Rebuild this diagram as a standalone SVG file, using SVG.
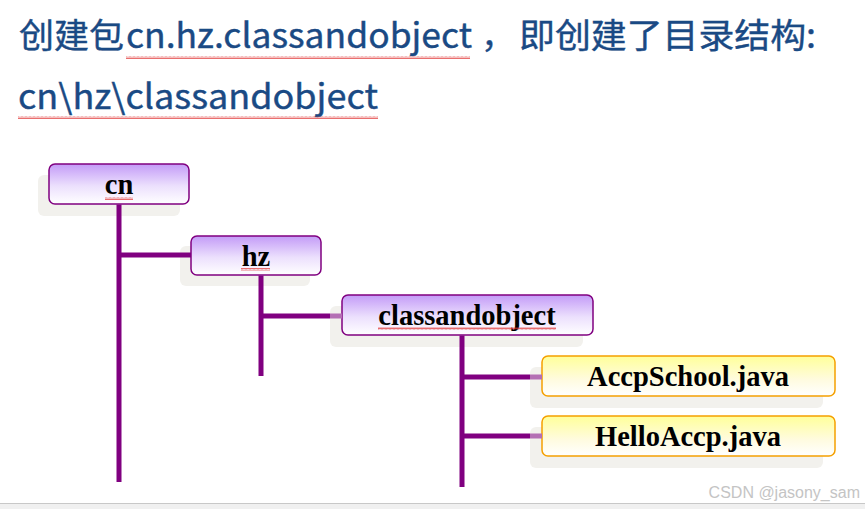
<svg xmlns="http://www.w3.org/2000/svg" width="865" height="509" viewBox="0 0 865 509">
<defs>
<linearGradient id="gP" x1="0" y1="0" x2="0" y2="1">
<stop offset="0" stop-color="#c39bf7"/>
<stop offset="0.55" stop-color="#ece0fd"/>
<stop offset="1" stop-color="#ffffff"/>
</linearGradient>
<linearGradient id="gY" x1="0" y1="0" x2="0" y2="1">
<stop offset="0" stop-color="#ffff99"/>
<stop offset="0.6" stop-color="#fffbe0"/>
<stop offset="1" stop-color="#ffffff"/>
</linearGradient>
<pattern id="sq" width="4" height="3" patternUnits="userSpaceOnUse">
<path d="M0,2.5 L1,0.5 L2,2.5 L3,0.5 L4,2.5" fill="none" stroke="#e03030" stroke-width="0.7"/>
</pattern>
</defs>
<style>
.title{font-family:"Noto Sans CJK SC","Noto Sans",sans-serif;font-size:34px;fill:#1a4a84;stroke:#1a4a84;stroke-width:0.4}
.shadow{fill:#efeee8;opacity:0.8}
.pbox{fill:url(#gP);stroke:#800080;stroke-width:1.5}
.ybox{fill:url(#gY);stroke:#f5a000;stroke-width:1.5}
.lbl{font-family:"Liberation Serif","Times New Roman",serif;font-weight:bold;font-size:28.5px;fill:#000;text-anchor:middle}
.con{stroke:#800080;stroke-width:5;fill:none}
.conl{stroke:#b46fb4;stroke-width:5;fill:none}
.sq{fill:url(#sq)}
</style>
<rect width="865" height="509" fill="#ffffff"/>
<g id="title">
<text class="title" y="48"><tspan x="19" textLength="105" lengthAdjust="spacingAndGlyphs">创建包</tspan><tspan x="126" textLength="346" lengthAdjust="spacingAndGlyphs">cn.hz.classandobject</tspan><tspan x="481">，</tspan><tspan x="519" textLength="297" lengthAdjust="spacingAndGlyphs">即创建了目录结构:</tspan></text>
<text class="title" x="18" y="109" textLength="360" lengthAdjust="spacingAndGlyphs">cn\hz\classandobject</text>
<rect class="sq" x="126" y="56" width="344" height="3"/>
<rect class="sq" x="18" y="116" width="360" height="3"/>
</g>
<g id="n-cn">
<rect class="shadow" x="38" y="175" width="142" height="41" rx="6"/>
<rect class="pbox" x="49" y="164" width="140" height="40" rx="6"/>
<text class="lbl" x="119" y="194">cn</text>
<rect class="sq" x="105" y="197" width="28" height="3"/>
</g>
<g id="n-hz">
<rect class="shadow" x="180" y="246" width="130" height="40" rx="6"/>
<rect class="pbox" x="191" y="236" width="130" height="39" rx="6"/>
<text class="lbl" x="256" y="266">hz</text>
<rect class="sq" x="241" y="268" width="29" height="3"/>
</g>
<g id="n-classandobject">
<rect class="shadow" x="330" y="306" width="253" height="41" rx="6"/>
<rect class="pbox" x="342" y="295" width="251" height="40" rx="6"/>
<text class="lbl" x="467" y="325">classandobject</text>
<rect class="sq" x="378" y="327" width="178" height="3"/>
</g>
<g id="n-accpschool">
<rect class="shadow" x="530" y="367" width="293" height="41" rx="6"/>
<rect class="ybox" x="542" y="356" width="293" height="40" rx="6"/>
<text class="lbl" x="688" y="386">AccpSchool.java</text>
</g>
<g id="n-helloaccp">
<rect class="shadow" x="530" y="427" width="293" height="41" rx="6"/>
<rect class="ybox" x="542" y="416" width="293" height="40" rx="6"/>
<text class="lbl" x="688" y="446">HelloAccp.java</text>
</g>
<g id="connectors">
<path class="con" d="M119,204.5 V482 M119,255 H191"/>
<path class="con" d="M261,275.5 V376 M261,316 H330"/>
<path class="con" d="M462,335.5 V487 M462,377 H530 M462,436 H530"/>
<path class="conl" d="M330,316 H342 M530,377 H542 M530,436 H542"/>
</g>
<g id="footer">
<rect x="0" y="503" width="865" height="6" fill="#f0f0f0"/>
<line x1="0" y1="503.5" x2="865" y2="503.5" stroke="#c8c8c8" stroke-width="1"/>
<text x="860" y="498" font-family="Liberation Sans,Arial,sans-serif" font-size="16" fill="#c4c4c4" text-anchor="end">CSDN @jasony_sam</text>
</g>
</svg>
